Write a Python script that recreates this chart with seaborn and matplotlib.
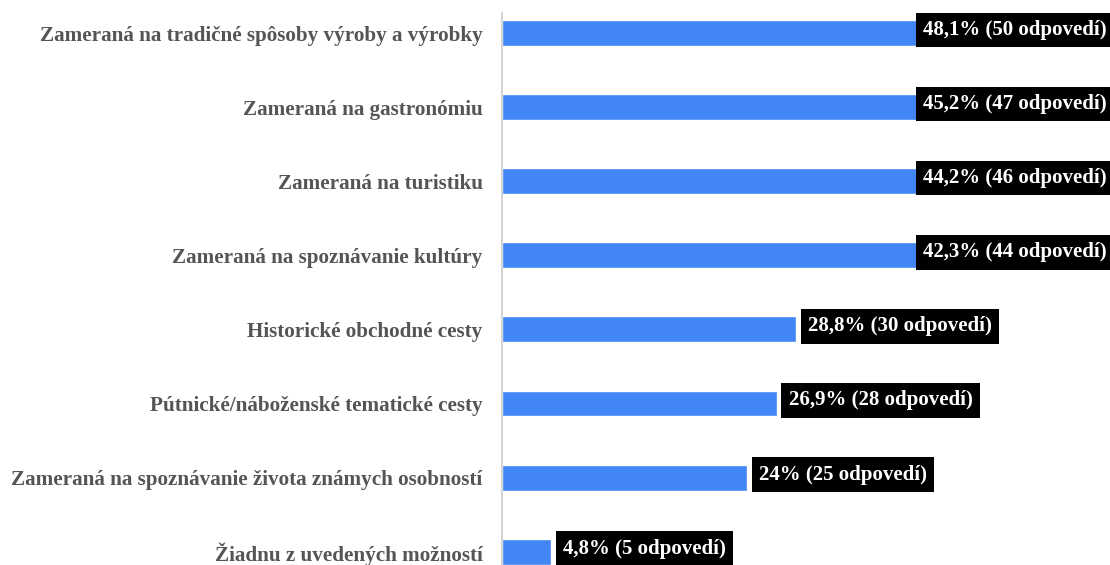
import matplotlib
matplotlib.use('Agg')
import matplotlib.pyplot as plt
import seaborn as sns

# Údaje z grafu
kategorie = [
    'Zameraná na tradičné spôsoby výroby a výrobky',
    'Zameraná na gastronómiu',
    'Zameraná na turistiku',
    'Zameraná na spoznávanie kultúry',
    'Historické obchodné cesty',
    'Pútnické/náboženské tematické cesty',
    'Zameraná na spoznávanie života známych osobností',
    'Žiadnu z uvedených možností',
]
percenta = [48.1, 45.2, 44.2, 42.3, 28.8, 26.9, 24, 4.8]
odpovede = [50, 47, 46, 44, 30, 28, 25, 5]
popisky = ['48,1%', '45,2%', '44,2%', '42,3%', '28,8%', '26,9%', '24%', '4,8%']

sns.set_style('white')
plt.rcParams['font.family'] = ['Liberation Serif', 'DejaVu Serif']

fig = plt.figure(figsize=(11.1, 5.65), dpi=100)
ax = fig.add_axes([502 / 1110, 0, 1 - 502 / 1110, 1 - 13 / 565])

sns.barplot(x=percenta, y=kategorie, color='#4285F4', width=0.35,
            saturation=1, orient='h', ax=ax)

ax.set_xlim(0, 59.55)
ax.set_ylim(7.18, -0.27)
ax.set_xticks([])
ax.set_xlabel('')
ax.set_ylabel('')
for s in ['top', 'right', 'bottom']:
    ax.spines[s].set_visible(False)
ax.spines['left'].set_color('#cccccc')
ax.spines['left'].set_linewidth(1.2)
ax.tick_params(axis='y', length=0, pad=14, labelsize=15.2, labelcolor='#555555')
for t in ax.get_yticklabels():
    t.set_fontweight('bold')

# Popisky hodnôt v čiernych rámčekoch
fig.canvas.draw()
renderer = fig.canvas.get_renderer()
ax_right = ax.get_window_extent().x1
for i, (p, lab, n) in enumerate(zip(percenta, popisky, odpovede)):
    txt = ax.annotate(f'{lab} ({n} odpovedí)', xy=(p, i), xytext=(12, 3),
                      textcoords='offset pixels', va='center', ha='left',
                      color='white', fontsize=15, fontweight='bold',
                      bbox=dict(boxstyle='square,pad=0.35', fc='black', ec='none'),
                      annotation_clip=False)
    bb = txt.get_window_extent(renderer)
    if bb.x1 + 3 > ax_right:
        txt.set_position((12 - (bb.x1 + 3 - ax_right), 3))

fig.savefig('out.png', dpi=100)
